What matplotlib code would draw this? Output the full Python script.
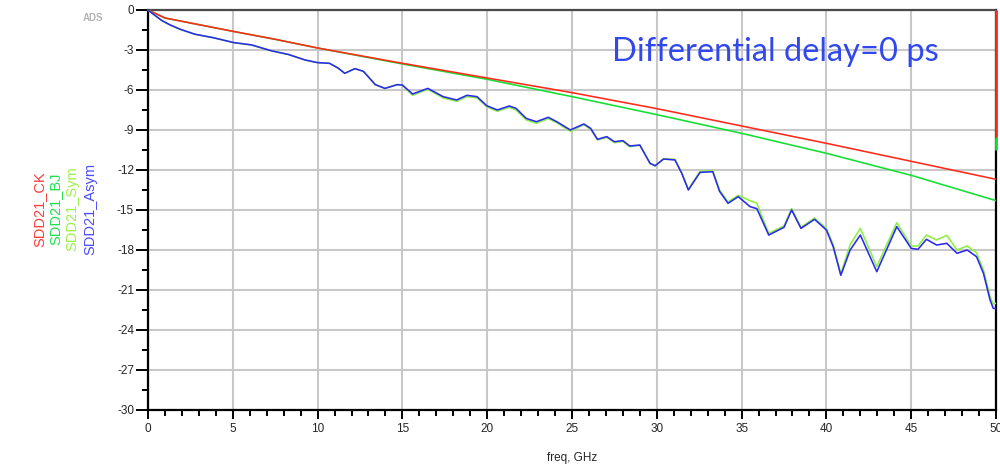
import matplotlib
matplotlib.use("Agg")
import matplotlib.pyplot as plt
from matplotlib.ticker import MultipleLocator

plt.rcParams['font.family'] = ['Liberation Sans', 'DejaVu Sans']

# ---- data -------------------------------------------------------------
freq_smooth = [0, 1, 2, 3, 5, 7.5, 10, 15, 20, 25, 30, 35, 40, 45, 50]
sdd21_ck = [0, -0.6, -0.85, -1.1, -1.6, -2.2, -2.85, -4.0, -5.1,
            -6.2, -7.4, -8.7, -10.0, -11.35, -12.7]
sdd21_bj = [0, -0.6, -0.85, -1.1, -1.6, -2.2, -2.85, -4.05, -5.2,
            -6.5, -7.85, -9.25, -10.75, -12.4, -14.3]

freq_ripple = [0, 0.35, 0.8, 1.3, 1.9, 2.77, 3.85, 5.07, 6.1, 7.3, 8.26,
               9.26, 10.0, 10.7, 11.2, 11.6, 12.2, 12.7, 13.4, 13.97, 14.7,
               15.0, 15.6, 16.5, 17.4, 18.2, 18.8, 19.4, 19.97, 20.6, 21.3,
               21.7, 22.3, 22.9, 23.6, 24.1, 24.9, 25.7, 26.1, 26.5, 27.05,
               27.5, 28.0, 28.4, 29.0, 29.6, 29.9, 30.4, 31.07, 31.47, 31.86,
               32.55, 33.3, 33.7, 34.2, 34.8, 35.5, 35.9, 36.6, 37.5, 37.95,
               38.5, 39.3, 40.0, 40.4, 40.85, 41.4, 42.0, 42.97, 44.15, 45.0,
               45.4, 45.9, 46.5, 47.1, 47.7, 48.3, 48.85, 49.26, 49.65, 49.84,
               50.0]
sdd21_asym = [0, -0.35, -0.78, -1.12, -1.45, -1.82, -2.08, -2.45, -2.62,
              -3.07, -3.33, -3.75, -3.95, -4.0, -4.35, -4.75, -4.4, -4.6,
              -5.6, -5.88, -5.6, -5.63, -6.3, -5.88, -6.5, -6.75, -6.4, -6.5,
              -7.18, -7.5, -7.2, -7.38, -8.13, -8.38, -8.05, -8.38, -9.0,
              -8.55, -8.88, -9.7, -9.5, -9.88, -9.8, -10.2, -10.13, -11.5,
              -11.68, -11.18, -11.25, -12.25, -13.5, -12.18, -12.13, -13.6,
              -14.5, -14.0, -14.75, -14.9, -16.88, -16.3, -15.0, -16.38,
              -15.7, -16.5, -17.75, -19.9, -18.0, -16.88, -19.63, -16.25,
              -17.88, -17.95, -17.2, -17.63, -17.5, -18.25, -18.0, -18.5,
              -19.75, -21.75, -22.38, -22.38]
sdd21_sym = [0, -0.35, -0.78, -1.12, -1.45, -1.82, -2.08, -2.45, -2.62,
             -3.07, -3.33, -3.75, -3.95, -4.0, -4.35, -4.75, -4.4, -4.6,
             -5.6, -5.88, -5.6, -5.65, -6.4, -5.95, -6.6, -6.85, -6.5, -6.6,
             -7.25, -7.6, -7.3, -7.5, -8.25, -8.5, -8.15, -8.45, -9.1,
             -8.6, -8.95, -9.75, -9.55, -9.95, -9.85, -10.25, -10.15, -11.5,
             -11.7, -11.15, -11.2, -12.2, -13.45, -12.1, -12.05, -13.5,
             -14.4, -13.9, -14.3, -14.5, -16.75, -16.2, -14.9, -16.3,
             -15.6, -16.4, -17.6, -19.8, -17.6, -16.38, -19.25, -15.95,
             -17.7, -17.7, -16.88, -17.25, -16.9, -18.0, -17.7, -18.2,
             -19.5, -21.5, -22.05, -22.0]

# end-of-sweep vertical segments at 50 GHz
edge_ck = (0, -9.5)
edge_bj = (-9.5, -10.5)

series_names = ["SDD21_CK", "SDD21_BJ", "SDD21_Sym", "SDD21_Asym"]
label_colors = ["#ff3b3b", "#1ee050", "#9cf04a", "#4b4bff"]

x_ticks = [0, 5, 10, 15, 20, 25, 30, 35, 40, 45, 50]
y_ticks = [0, -3, -6, -9, -12, -15, -18, -21, -24, -27, -30]

# ---- figure -----------------------------------------------------------
fig = plt.figure(figsize=(10, 4.66), dpi=100)
ax = fig.add_axes([0.148, 0.1202, 0.848, 0.8584])

ax.set_xlim(0, 50)
ax.set_ylim(-30, 0)

grid_c = "#c8c8c8"
ax.grid(True, which="major", color=grid_c, linewidth=1.5)
ax.set_axisbelow(True)

lw = 1.15
ax.plot(freq_smooth, sdd21_bj, color="#10e030", lw=lw, zorder=3)
ax.plot(freq_smooth, sdd21_ck, color="#ff2a1a", lw=lw, zorder=4)
ax.plot(freq_ripple, sdd21_sym, color="#8cf040", lw=lw, zorder=5)
ax.plot(freq_ripple, sdd21_asym, color="#2a2aee", lw=lw, zorder=6)

ax.vlines(50, edge_ck[1], edge_ck[0], color="#ff2a1a", lw=2.0, zorder=8,
          clip_on=False)
ax.vlines(50, edge_bj[1], edge_bj[0], color="#10e030", lw=2.0, zorder=8,
          clip_on=False)

for side in ["left", "bottom", "right"]:
    ax.spines[side].set_color("black")
    ax.spines[side].set_linewidth(1.6)
ax.spines["top"].set_color("#4a4a4a")
ax.spines["top"].set_linewidth(1.6)

ax.set_xticks(x_ticks)
ax.set_yticks(y_ticks)
ax.xaxis.set_minor_locator(MultipleLocator(1))
ax.yaxis.set_minor_locator(MultipleLocator(1.5))
ax.tick_params(axis="both", which="major", direction="out", width=1.4,
               colors="black", labelcolor="#262626", labelsize=8.5)
ax.tick_params(axis="y", which="major", length=9, pad=1)
ax.tick_params(axis="x", which="major", length=6.5, pad=3)
ax.tick_params(axis="y", which="minor", length=4.5, width=1.4)
ax.tick_params(axis="x", which="minor", length=4, width=1.4)
ax.set_xticklabels([str(v) for v in x_ticks])
ax.set_yticklabels([str(v) for v in y_ticks])

ax.set_xlabel("freq, GHz", fontsize=8.5, color="#262626", labelpad=12)

# vertical trace labels at the left
label_x = [0.039, 0.055, 0.072, 0.090]
for name, col, xf in zip(series_names, label_colors, label_x):
    fig.text(xf, 1 - 209 / 466, name, rotation=90, color=col,
             fontsize=10.5, ha="center", va="center")

fig.text(0.093, 1 - 18 / 466, "ADS", color="#b4b4b4", fontsize=7,
         fontweight="bold", ha="center", va="center")

fig.text(0.612, 1 - 52 / 466, "Differential delay=0 ps", color="#3048ee",
         fontsize=23.5, family=["Lato", "DejaVu Sans"],
         ha="left", va="center")

fig.savefig("out.png", dpi=100)
